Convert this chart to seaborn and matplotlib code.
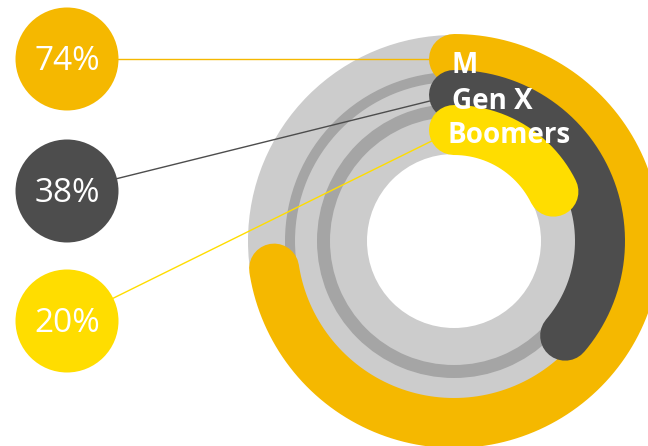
import numpy as np
import pandas as pd
import matplotlib
matplotlib.use("Agg")
import matplotlib.pyplot as plt
import seaborn as sns
from matplotlib.patches import Circle, Wedge

# ---- data ----
groups = ["M", "Gen X", "Boomers"]
values = [74, 38, 20]
pct_labels = ["74%", "38%", "20%"]
colors = ["#F5B800", "#4D4D4D", "#FFDD00"]

# ---- layout (pixels) ----
W, H = 648, 446
cx, cy = 454, 241
ring_r = [182, 146, 111]
ring_w = [50, 50, 50]
cap_trim = 0.65          # share of the round cap kept inside the value span
bubble_x = 67
bubble_y = [59, 191, 321]
bubble_r = 51.5
PX2PT = 72 / 100

sns.set_style("white")
plt.rcParams["font.family"] = ["Open Sans", "DejaVu Sans"]

fig = plt.figure(figsize=(W / 100, H / 100), dpi=100)
ax = fig.add_axes([0, 0, 1, 1])
ax.set_xlim(0, W)
ax.set_ylim(H, 0)
ax.set_aspect("equal")
ax.axis("off")

# background disc with rings
ax.add_patch(Circle((cx, cy), 206, color="#CCCCCC", zorder=1, lw=0))
ax.add_patch(Wedge((cx, cy), 169, 0, 360, width=10, color="#A5A5A5", zorder=1, lw=0))
ax.add_patch(Wedge((cx, cy), 137, 0, 360, width=13, color="#A5A5A5", zorder=1, lw=0))
ax.add_patch(Circle((cx, cy), 87, color="white", zorder=1, lw=0))

# arcs
rows = []
for g, v, r, w in zip(groups, values, ring_r, ring_w):
    cap = (w / 2) / r
    end = v / 100 * 2 * np.pi - cap_trim * cap
    t = np.linspace(0, end, 300)
    for tt in t:
        rows.append({"group": g, "x": cx + r * np.sin(tt), "y": cy - r * np.cos(tt)})
arcs = pd.DataFrame(rows)

sns.lineplot(data=arcs, x="x", y="y", hue="group", size="group",
             hue_order=groups, palette=dict(zip(groups, colors)),
             sizes={g: w * PX2PT for g, w in zip(groups, ring_w)},
             estimator=None, sort=False, legend=False, ax=ax,
             solid_capstyle="round", zorder=3)

# connector lines: bubble centre -> edge of the arc's start cap
for by, r, w, c in zip(bubble_y, ring_r, ring_w, colors):
    sx, sy = cx, cy - r
    dx, dy = sx - bubble_x, sy - by
    d = np.hypot(dx, dy)
    ex, ey = sx - dx / d * (w / 2), sy - dy / d * (w / 2)
    ax.plot([bubble_x, ex], [by, ey], color=c, lw=1.0, zorder=3.5)

# bubbles
sns.scatterplot(x=[bubble_x] * 3, y=bubble_y, hue=groups, hue_order=groups,
                palette=dict(zip(groups, colors)),
                s=(2 * bubble_r * PX2PT) ** 2, linewidth=0, legend=False,
                ax=ax, zorder=4)

for by, lab in zip(bubble_y, pct_labels):
    ax.text(bubble_x, by + 2, lab, color="white", fontsize=24,
            ha="center", va="center", zorder=5)

label_base = [73, 109, 143]
label_x = [452, 452, 448]
for g, x, y in zip(groups, label_x, label_base):
    ax.text(x, y, g, color="white", fontsize=20, fontweight="bold",
            ha="left", va="baseline", zorder=5)

ax.set_xlim(0, W)
ax.set_ylim(H, 0)
fig.savefig("out.png", dpi=100)
